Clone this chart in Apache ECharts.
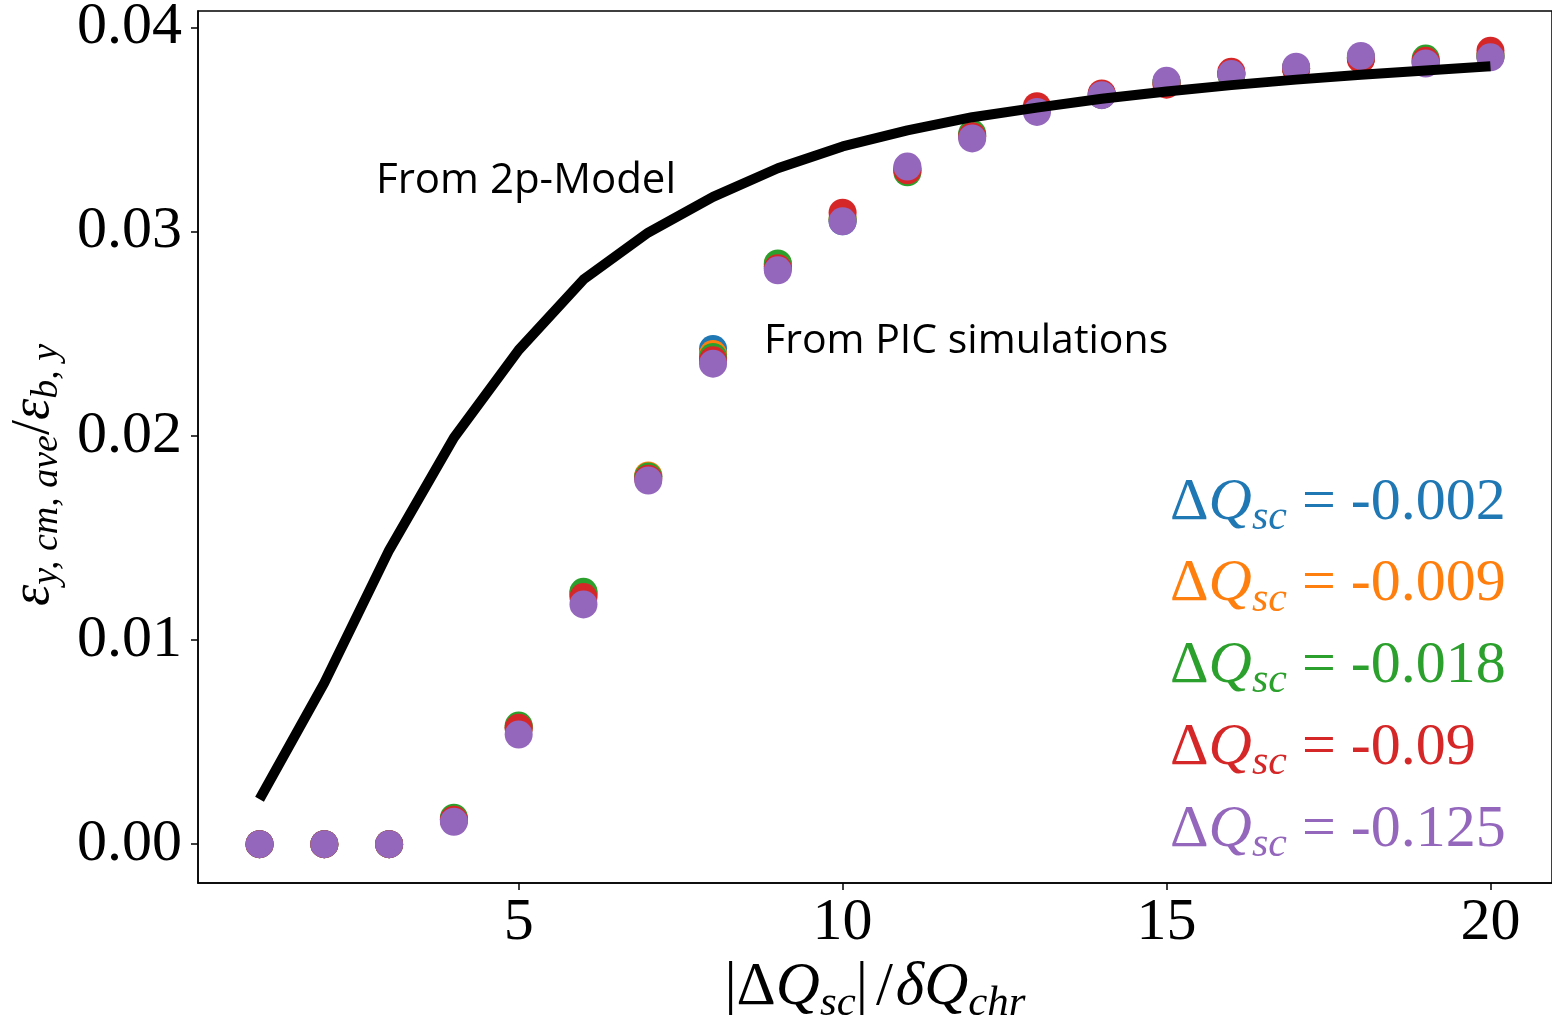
<!DOCTYPE html>
<html>
<head>
<meta charset="utf-8">
<script src="https://cdn.jsdelivr.net/npm/echarts@6/dist/echarts.min.js"></script>
<style>
  html, body { margin: 0; padding: 0; background: #fff; }
  #chart { width: 1552px; height: 1015px; }
</style>
</head>
<body>
<div id="chart"></div>
<script>
// |ΔQsc| / δQchr
const ratio = [1, 2, 3, 4, 5, 6, 7, 8, 9, 10, 11, 12, 13, 14, 15, 16, 17, 18, 19, 20]

// 2p-model curve
const model2p = [0.0022, 0.0079, 0.0144, 0.0199, 0.0242, 0.02765, 0.02995, 0.0317, 0.0331, 0.03417,
  0.03495, 0.0356, 0.03607, 0.0365, 0.03686, 0.03717, 0.03744, 0.03768, 0.03789, 0.0381]

// PIC simulation results, one list per ΔQsc
const picBlue = [0, 0, 0, 0.0012, 0.0057, 0.01226, 0.0180, 0.02425, 0.0283, 0.0305,
  0.0331, 0.0347, 0.0360, 0.0367, 0.0373, 0.0377, 0.0380, 0.0385, 0.0383, 0.0386]
const picOrange = [0, 0, 0, 0.0012, 0.0057, 0.0123, 0.01806, 0.0240, 0.0284, 0.0306,
  0.0330, 0.0347, 0.0360, 0.0367, 0.0373, 0.0377, 0.0380, 0.0385, 0.0383, 0.0386]
const picGreen = [0, 0, 0, 0.0013, 0.00581, 0.01236, 0.0180, 0.02386, 0.02844, 0.0306,
  0.0329, 0.0348, 0.0360, 0.0367, 0.0373, 0.0377, 0.0380, 0.0385, 0.03847, 0.0386]
const picRed = [0, 0, 0, 0.0012, 0.0057, 0.0121, 0.0179, 0.0237, 0.0282, 0.03092,
  0.0330, 0.03467, 0.03614, 0.03676, 0.03719, 0.03782, 0.03794, 0.03843, 0.03836, 0.03885]
const picPurple = [0, 0, 0, 0.0011, 0.00537, 0.01174, 0.01781, 0.02353, 0.0281, 0.0305,
  0.03318, 0.03456, 0.03586, 0.03668, 0.03738, 0.03771, 0.03807, 0.0386, 0.03823, 0.03853]

const dqLabels = ['-0.002', '-0.009', '-0.018', '-0.09', '-0.125']
const xTicks = [5, 10, 15, 20]
const yTicks = [0, 0.01, 0.02, 0.03, 0.04]

const colors = ['#1f77b4', '#ff7f0e', '#2ca02c', '#d62728', '#9467bd']
const picSets = [picBlue, picOrange, picGreen, picRed, picPurple]

const serif = 'Liberation Serif'
const sans = 'Open Sans'

const chart = echarts.init(document.getElementById('chart'), null, { renderer: 'canvas' })

const pair = (ys) => ratio.map((x, i) => [x, ys[i]])

// rich styles for the math-like text (subscripts drop a bit below the baseline)
const mathRich = (size, eqPad) => {
  const sub = Math.round(size * 0.7)
  const lh = Math.round(size * 1.2)
  return {
    u: { fontFamily: serif, fontSize: size, lineHeight: lh },
    i: { fontFamily: serif, fontSize: size, fontStyle: 'italic', lineHeight: lh },
    s: { fontFamily: serif, fontSize: sub, fontStyle: 'italic', lineHeight: lh - Math.round(size * 0.48), verticalAlign: 'bottom' },
    e: { fontFamily: serif, fontSize: size, lineHeight: lh, padding: [0, eqPad, 0, eqPad] },
    sl: { fontFamily: serif, fontSize: size, lineHeight: lh, padding: [0, 3, 0, 8] }
  }
}

const scatterSeries = picSets.map((ys, k) => ({
  name: 'ΔQsc = ' + dqLabels[k],
  type: 'scatter',
  data: pair(ys),
  symbol: 'circle',
  symbolSize: 28,
  itemStyle: { color: colors[k], opacity: 1 },
  z: 2
}))

const legendTexts = dqLabels.map((v, k) => ({
  type: 'text',
  left: 1170,
  top: 473 + k * 81.7,
  style: {
    text: '{u|Δ}{i|Q}{s|sc}{e|=}{u|' + v + '}',
    rich: mathRich(60, 15),
    fill: colors[k]
  },
  silent: true
}))

chart.setOption({
  animation: false,
  grid: {
    left: 198,
    top: 11,
    width: 1354,
    height: 872,
    show: true,
    borderColor: '#000',
    borderWidth: 1.5,
    containLabel: false,
    outerBoundsMode: 'none'
  },
  xAxis: {
    type: 'value',
    min: 0.05,
    max: 20.95,
    name: '{u||Δ}{i|Q}{s|sc}{u||}{sl|/}{i|δQ}{s|chr}',
    nameLocation: 'middle',
    nameGap: 63,
    nameTextStyle: { color: '#000', rich: mathRich(61, 10) },
    axisLine: { show: true, onZero: false, lineStyle: { color: '#000', width: 1.5 } },
    axisTick: { show: true, customValues: xTicks, length: 7, lineStyle: { color: '#000', width: 1.5 } },
    axisLabel: {
      customValues: xTicks,
      margin: 10,
      color: '#000',
      fontFamily: serif,
      fontSize: 60,
      lineHeight: 60
    },
    splitLine: { show: false }
  },
  yAxis: {
    type: 'value',
    min: -0.0019,
    max: 0.0408,
    name: '{i|ε}{s|y, cm, ave}{u|/}{i|ε}{s|b, y}',
    nameLocation: 'middle',
    nameRotate: 90,
    nameGap: 113,
    nameTextStyle: { color: '#000', rich: mathRich(54, 10), padding: [0, 56, 0, 0] },
    axisLine: { show: true, onZero: false, lineStyle: { color: '#000', width: 1.5 } },
    axisTick: { show: true, customValues: yTicks, length: 7, lineStyle: { color: '#000', width: 1.5 } },
    axisLabel: {
      customValues: yTicks,
      margin: 16,
      color: '#000',
      fontFamily: serif,
      fontSize: 60,
      formatter: (v) => v.toFixed(2)
    },
    splitLine: { show: false }
  },
  series: scatterSeries.concat([{
    name: '2p-Model',
    type: 'line',
    data: pair(model2p),
    symbol: 'none',
    lineStyle: { color: '#000', width: 10, cap: 'butt', join: 'round' },
    z: 5
  }]),
  graphic: [
    {
      type: 'text',
      left: 376,
      top: 160,
      style: { text: 'From 2p-Model', fill: '#000', fontFamily: sans, fontSize: 42 },
      silent: true
    },
    {
      type: 'text',
      left: 764,
      top: 321,
      style: { text: 'From PIC simulations', fill: '#000', fontFamily: sans, fontSize: 41 },
      silent: true
    }
  ].concat(legendTexts)
})
</script>
</body>
</html>
